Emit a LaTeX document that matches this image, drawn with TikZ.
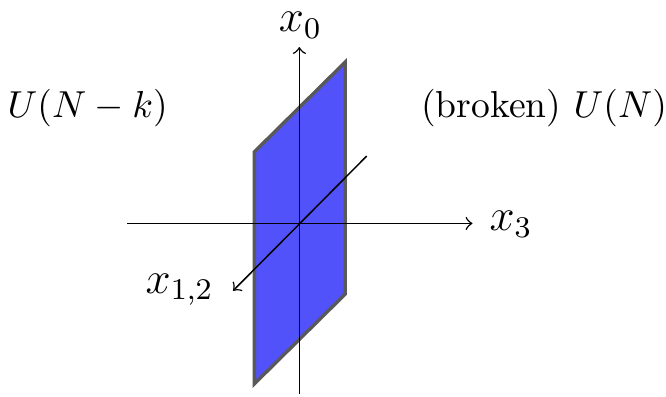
\documentclass[tikz,border=0pt]{standalone}
\usepackage{amsmath}
\usetikzlibrary{arrows, positioning}
\definecolor{sheetblue}{RGB}{82,82,250}

\begin{document}
\begin{tikzpicture}
        \useasboundingbox (-2.80, -1.62) rectangle (3.43, 2.09);
        \coordinate (left) at (-1.61, 0);
        \coordinate (right) at (1.62, 0);
        \coordinate (bottom) at (0, -1.60);
        \coordinate (top) at (0, 1.65);
        \coordinate (back) at (0.63, 0.63);
        \coordinate (front) at (-0.62, -0.63);
        \filldraw[fill=sheetblue, draw=black!65, line width=0.9pt] (-0.42, 0.67) -- (0.43, 1.51) -- (0.43, -0.66) -- (-0.42, -1.50) -- cycle;
        \draw[->] (left) -- (right);
        \draw[->] (bottom) -- (top);
        \draw[->] (back) -- (front);
        \node[inner sep=1pt] (xzero) at (0.01, 1.85) {\large \(x_0\)};
        \node (xthree) at (1.98, -0.01) {\large \(x_3\)};
        \node (xonetwo) at (-1.12, -0.62) {\large \(x_{1,2}\)};
        \node (unbroken) at (-1.98, 1.08) {\(U(N-k)\)};
        \node (broken) at (2.29, 1.08) {(broken) \(U(N)\)};
      \end{tikzpicture}
\end{document}
